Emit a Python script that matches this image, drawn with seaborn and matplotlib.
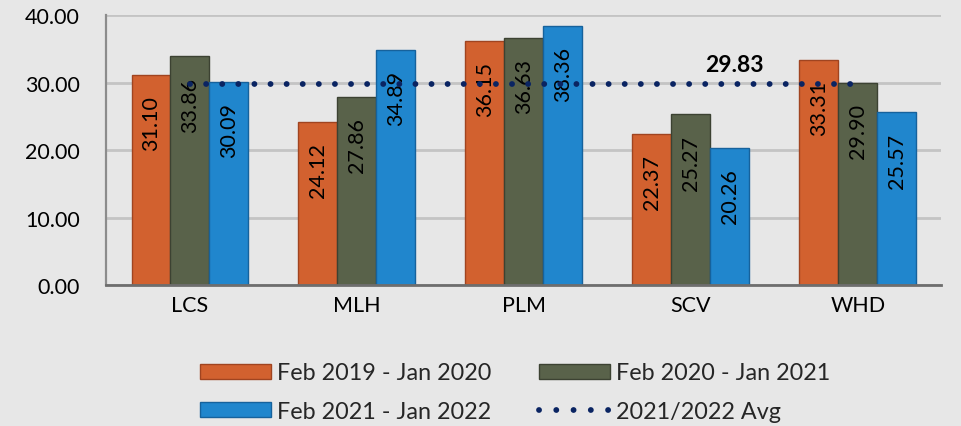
import matplotlib
matplotlib.use("Agg")
import matplotlib.pyplot as plt
import seaborn as sns
import pandas as pd
from matplotlib.patches import Patch
from matplotlib.lines import Line2D

# ---- data ----
sites = ["LCS", "MLH", "PLM", "SCV", "WHD"]
series_names = ["Feb 2019 - Jan 2020", "Feb 2020 - Jan 2021", "Feb 2021 - Jan 2022"]
vals_2019 = [31.10, 24.12, 36.15, 22.37, 33.31]
vals_2020 = [33.86, 27.86, 36.63, 25.27, 29.90]
vals_2021 = [30.09, 34.89, 38.36, 20.26, 25.57]
avg_name = "2021/2022 Avg"
avg_value = 29.83
avg_line = [29.83, 29.83, 29.83, 29.83, 29.83]
y_ticks = [0, 10, 20, 30, 40]

colors = ["#D2612F", "#59624A", "#2086CD"]
edge_colors = ["#A04420", "#3C4232", "#16629C"]
avg_color = "#0A2462"
bg = "#E7E7E7"

rows = []
for name, vals in zip(series_names, [vals_2019, vals_2020, vals_2021]):
    for s, v in zip(sites, vals):
        rows.append({"site": s, "series": name, "value": v})
df = pd.DataFrame(rows)
df_avg = pd.DataFrame({"site": sites, "value": avg_line})

sns.set_theme(style="white")
plt.rcParams["font.family"] = ["Lato", "DejaVu Sans"]

fig = plt.figure(figsize=(9.61, 4.27), dpi=100, facecolor=bg)
ax = fig.add_axes([0.1108, 0.330, 0.8687, 0.6325])
ax.set_facecolor(bg)

sns.barplot(data=df, x="site", y="value", hue="series", hue_order=series_names,
            palette=colors, saturation=1, width=0.7, gap=0, ax=ax, legend=False,
            zorder=2, linewidth=1.0)

for i, cont in enumerate(ax.containers):
    for bar in cont:
        bar.set_edgecolor(edge_colors[i])
    for bar, v in zip(cont, [vals_2019, vals_2020, vals_2021][i]):
        ax.annotate(f"{v:.2f}", xy=(bar.get_x() + bar.get_width() / 2, v),
                    xytext=(0, -14.5), textcoords="offset points",
                    rotation=90, ha="center", va="top", fontsize=15.5,
                    color="black", zorder=4)

sns.lineplot(data=df_avg, x="site", y="value", ax=ax, color=avg_color,
             linewidth=4.2, linestyle=(0, (0.01, 2.75)), zorder=5,
             legend=False)
for ln in ax.lines:
    ln.set_dash_capstyle("round")

ax.annotate(f"{avg_value:.2f}", xy=(3.26, avg_value), xytext=(0, 6),
            textcoords="offset points", ha="center", va="bottom",
            fontsize=16.5, fontweight="bold", color="black", zorder=6)

ax.set_ylim(0, 40)
ax.set_xlim(-0.5, 4.5)
ax.set_yticks(y_ticks)
ax.set_yticklabels([f"{t:.2f}" for t in y_ticks])
ax.yaxis.grid(True, color="#C4C4C4", linewidth=2, zorder=0)
ax.set_axisbelow(True)
ax.set_xlabel("")
ax.set_ylabel("")
ax.tick_params(axis="y", length=0, pad=19, labelsize=15.5, colors="black")
ax.tick_params(axis="x", length=0, pad=7, labelsize=15.5, colors="black")
for side in ["top", "right"]:
    ax.spines[side].set_visible(False)
ax.spines["left"].set_color("#8C8C8C")
ax.spines["left"].set_linewidth(1.6)
ax.spines["bottom"].set_color("#6E6E6E")
ax.spines["bottom"].set_linewidth(2)

handles = [
    Patch(facecolor=colors[0], edgecolor=edge_colors[0], label=series_names[0]),
    Patch(facecolor=colors[2], edgecolor=edge_colors[2], label=series_names[2]),
    Patch(facecolor=colors[1], edgecolor=edge_colors[1], label=series_names[1]),
    Line2D([0], [0], color=avg_color, linewidth=4.2, linestyle=(0, (0.01, 2.95)),
           dash_capstyle="round", label=avg_name),
]
leg = fig.legend(handles=handles, ncol=2, loc="upper left",
                 bbox_to_anchor=(0.208, 0.149), frameon=False, fontsize=16.8,
                 handlelength=3.05, handleheight=0.6, handletextpad=0.25,
                 columnspacing=2.05, labelspacing=0.75, borderpad=0,
                 borderaxespad=0)

fig.savefig("out.png", dpi=100, facecolor=bg)
